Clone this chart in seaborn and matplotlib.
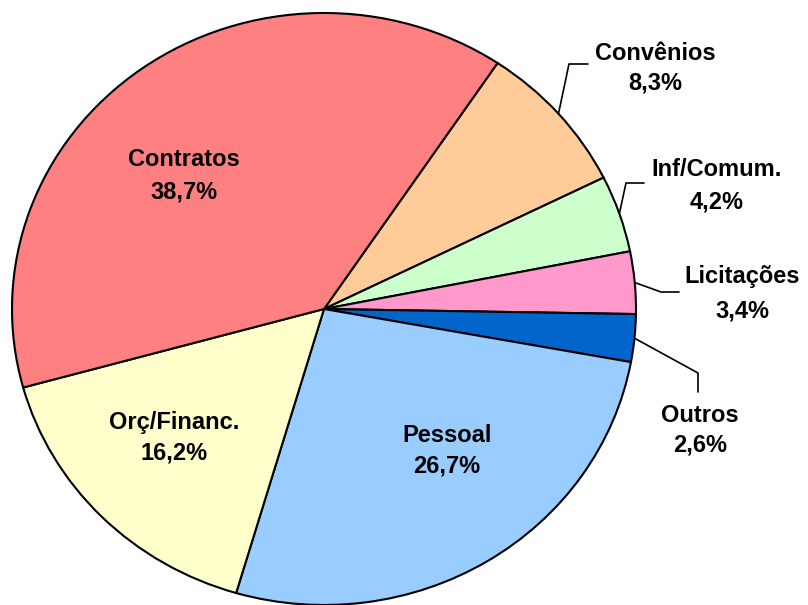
import numpy as np
import matplotlib
matplotlib.use("Agg")
import matplotlib.pyplot as plt
import seaborn as sns

categories = ["Convênios", "Inf/Comum.", "Licitações", "Outros", "Pessoal", "Orç/Financ.", "Contratos"]
values = [8.3, 4.2, 3.4, 2.6, 26.7, 16.2, 38.7]
pct_labels = ["8,3%", "4,2%", "3,4%", "2,6%", "26,7%", "16,2%", "38,7%"]
colors = ["#FFCC99", "#CCFFCC", "#FF99CC", "#0066CC", "#99CCFF", "#FFFFCC", "#FF8080"]

sns.set_style("white")
plt.rcParams["font.family"] = ["Liberation Sans", "DejaVu Sans"]

W, H = 808, 605
fig = plt.figure(figsize=(W / 100, H / 100), dpi=100)
# pie bounding box in pixels: x 12..636, y 13..605 (from top)
ax = fig.add_axes([12 / W, 0, 624 / W, 592 / H])
wedges, _ = ax.pie(values, colors=colors, startangle=56.2, counterclock=False,
                   wedgeprops=dict(edgecolor="black", linewidth=1.5), radius=1)
ax.set_aspect("auto")
ax.set_xlim(-1, 1)
ax.set_ylim(-1, 1)
ax.axis("off")

cx, cy, rx, ry = 324, 309, 312, 296
def px(x, y):
    return ((x - cx) / rx, (cy - y) / ry)

fs = 17
tkw = dict(fontsize=fs, fontweight="bold", ha="center", va="center", color="black")

# inside labels (pixel centres of name line, pct line)
inner = {"Contratos": (184, 160, 192), "Orç/Financ.": (174, 423, 453), "Pessoal": (447, 436, 466)}
# outside labels: text centre x, name y, pct y, bend point, end point
outer = {
    "Convênios": (655, 53, 83, (569, 64), (588, 64)),
    "Inf/Comum.": (717, 170, 202, (626, 183), (644, 183)),
    "Licitações": (742, 277, 311, (661, 292), (679, 292)),
    "Outros": (700, 415, 445, (698, 373), (698, 392)),
}

for w, cat, pl in zip(wedges, categories, pct_labels):
    if cat in inner:
        x, y1, y2 = inner[cat]
        ax.text(*px(x, y1), cat, **tkw)
        ax.text(*px(x, y2), pl, **tkw)
    else:
        x, y1, y2, bend, end = outer[cat]
        mid = np.deg2rad((w.theta1 + w.theta2) / 2)
        sx, sy = np.cos(mid), np.sin(mid)
        bx, by = px(*bend)
        ex, ey = px(*end)
        ax.plot([sx, bx, ex], [sy, by, ey], color="black", linewidth=1.2, clip_on=False)
        ax.text(*px(x, y1), cat, **tkw)
        ax.text(*px(x, y2), pl, **tkw)

fig.savefig("out.png", dpi=100, facecolor="white")
